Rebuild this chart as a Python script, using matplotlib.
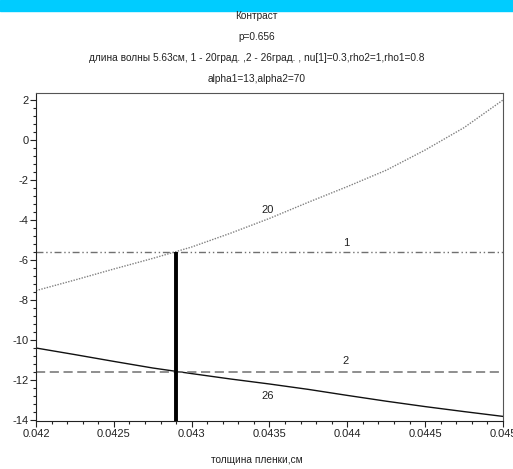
import matplotlib
matplotlib.use("Agg")
import matplotlib.pyplot as plt
from matplotlib.patches import Rectangle
from matplotlib.ticker import MultipleLocator, FixedLocator

plt.rcParams['font.family'] = ['Liberation Sans', 'DejaVu Sans']
plt.rcParams['axes.unicode_minus'] = False

# data
x = [0.042, 0.04225, 0.0425, 0.04275, 0.043, 0.04325, 0.0435, 0.04375,
     0.044, 0.04425, 0.0445, 0.04475, 0.045]
curve20 = [-7.53, -7.0, -6.45, -5.92, -5.35, -4.66, -3.92, -3.11,
           -2.33, -1.51, -0.50, 0.62, 2.0]
curve26 = [-10.4, -10.73, -11.07, -11.4, -11.68, -11.95, -12.2, -12.47,
           -12.77, -13.06, -13.33, -13.58, -13.82]
level1 = -5.6
level2 = -11.6
x_cross = 0.0429
xticks = [0.042, 0.0425, 0.043, 0.0435, 0.044, 0.0445, 0.045]
xtick_labels = ["0.042", "0.0425", "0.043", "0.0435", "0.044", "0.0445", "0.045"]
yticks = [2, 0, -2, -4, -6, -8, -10, -12, -14]
labels = [("20", 0.04349, -3.52), ("1", 0.04399, -5.17),
          ("2", 0.04399, -11.04), ("26", 0.04349, -12.8)]

W, H = 513, 469
fig = plt.figure(figsize=(W / 100, H / 100), dpi=100)
fig.patches.append(Rectangle((0, 1 - 11 / H), 1, 11 / H, transform=fig.transFigure,
                             color='#00CCFF', zorder=0))

ax = fig.add_axes([36 / W, (H - 421) / H, 467 / W, 328 / H])
ax.set_xlim(0.042, 0.045)
ax.set_ylim(-14.05, 2.35)

ax.plot(x, curve20, color='#808080', lw=1, linestyle=(0, (1, 1)))
ax.plot(x, curve26, color='#111111', lw=1)
ax.axhline(level1, color='#707070', lw=1, linestyle=(0, (5, 2, 1, 2, 1, 2)))
ax.axhline(level2, color='#707070', lw=1.1, linestyle=(0, (6, 3)))
ax.plot([x_cross, x_cross], [-14.05, level1], color='black', lw=2.8,
        solid_capstyle='butt')

for t, lx, ly in labels:
    ax.text(lx, ly, t, ha='center', va='center', fontsize=8, color='#222222')

ax.xaxis.set_major_locator(FixedLocator(xticks))
ax.set_xticklabels(xtick_labels)
ax.xaxis.set_minor_locator(MultipleLocator(0.0001))
ax.yaxis.set_major_locator(FixedLocator(yticks))
ax.yaxis.set_minor_locator(MultipleLocator(0.4))
ax.tick_params(which='major', direction='out', length=4, width=0.8,
               labelsize=8, pad=1.5, colors='#222222')
ax.tick_params(which='minor', direction='out', length=2.5, width=0.8,
               colors='#222222')
for side in ['left', 'bottom']:
    ax.spines[side].set_color('#222222')
for side in ['top', 'right']:
    ax.spines[side].set_color('#555555')

tcolor = '#222222'
fs = 7.3
fig.text(0.5, 1 - 16 / H, "Контраст", ha='center', va='center', fontsize=fs, color=tcolor)
fig.text(0.5, 1 - 37 / H, "p=0.656", ha='center', va='center', fontsize=fs, color=tcolor)
fig.text(0.5, 1 - 58 / H,
         "длина волны 5.63см, 1 - 20град. ,2 - 26град. , nu[1]=0.3,rho2=1,rho1=0.8",
         ha='center', va='center', fontsize=fs, color=tcolor)
fig.text(0.5, 1 - 79 / H, "alpha1=13,alpha2=70", ha='center', va='center',
         fontsize=fs, color=tcolor)
fig.text(0.5, 1 - 460 / H, "толщина пленки,см", ha='center', va='center',
         fontsize=fs, color=tcolor)

fig.savefig("out.png", dpi=100)
